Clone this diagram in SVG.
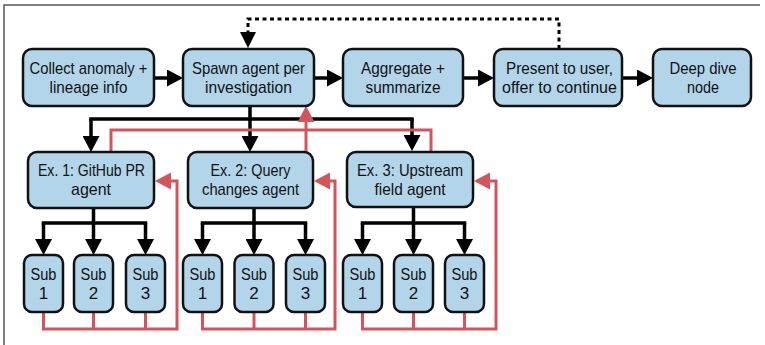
<svg xmlns="http://www.w3.org/2000/svg" width="765" height="345" viewBox="0 0 765 345">
  <style>
    .box { fill: #b3d5ea; stroke: #111; stroke-width: 2.5; }
    .lbl { font-family: "Liberation Sans", Arial, sans-serif; font-size: 17px; fill: #111; text-anchor: middle; }
    .blk { fill: none; stroke: #000; stroke-width: 3.5; }
    .red { fill: none; stroke: #d3545b; stroke-width: 3; }
    .dot { fill: none; stroke: #000; stroke-width: 3; stroke-dasharray: 4 3.5; }
  </style>
  <defs>
    <marker id="ahBlack" markerUnits="userSpaceOnUse" markerWidth="16" markerHeight="17" refX="4" refY="8.5" orient="auto">
      <path d="M0,0 L16,8.5 L0,17 Z" fill="#000"/>
    </marker>
    <marker id="ahRed" markerUnits="userSpaceOnUse" markerWidth="16" markerHeight="17" refX="4" refY="8.5" orient="auto">
      <path d="M0,0 L16,8.5 L0,17 Z" fill="#d3545b"/>
    </marker>
  </defs>

  <!-- frame -->
  <path d="M4,345 V5 H760" fill="none" stroke="#555" stroke-width="1.5"/>

  <!-- connectors -->
  <g id="connectors">
    <!-- main flow -->
    <path class="blk" d="M154,78 H171" marker-end="url(#ahBlack)"/>
    <path class="blk" d="M314,78 H331" marker-end="url(#ahBlack)"/>
    <path class="blk" d="M463,78 H482" marker-end="url(#ahBlack)"/>
    <path class="blk" d="M622,78 H641" marker-end="url(#ahBlack)"/>
    <!-- continue loop -->
    <path class="dot" d="M559,49 V19 H248 V36"/>
    <path d="M240,32 L256,32 L248,48 Z" fill="#000"/>
    <!-- spawn fan-out -->
    <path class="blk" d="M250,106 V119 M89.25,119 H413.75"/>
    <path class="blk" d="M91,119 V140" marker-end="url(#ahBlack)"/>
    <path class="blk" d="M250,119 V140" marker-end="url(#ahBlack)"/>
    <path class="blk" d="M412,119 V139" marker-end="url(#ahBlack)"/>
    <!-- agent fan-out to subagents -->
    <path class="blk" d="M93.5,208 V223 M41.75,223 H147.25"/>
    <path class="blk" d="M43.5,223 V243" marker-end="url(#ahBlack)"/>
    <path class="blk" d="M93.5,223 V243" marker-end="url(#ahBlack)"/>
    <path class="blk" d="M145.5,223 V243" marker-end="url(#ahBlack)"/>
    <path class="blk" d="M254,208 V223 M200.75,223 H307.25"/>
    <path class="blk" d="M202.5,223 V243" marker-end="url(#ahBlack)"/>
    <path class="blk" d="M254,223 V243" marker-end="url(#ahBlack)"/>
    <path class="blk" d="M305.5,223 V243" marker-end="url(#ahBlack)"/>
    <path class="blk" d="M413.5,208 V223 M360.75,223 H466.25"/>
    <path class="blk" d="M362.5,223 V243" marker-end="url(#ahBlack)"/>
    <path class="blk" d="M413.5,223 V243" marker-end="url(#ahBlack)"/>
    <path class="blk" d="M464.5,223 V243" marker-end="url(#ahBlack)"/>
    <!-- results back to agents -->
    <path class="red" d="M43.5,312 V329 H177 V181 H167" marker-end="url(#ahRed)"/>
    <path class="red" d="M93.5,312 V329 M145.5,312 V329"/>
    <path class="red" d="M202.5,312 V329 H335 V181 H326" marker-end="url(#ahRed)"/>
    <path class="red" d="M254,312 V329 M305.5,312 V329"/>
    <path class="red" d="M362.5,312 V329 H496 V181 H486" marker-end="url(#ahRed)"/>
    <path class="red" d="M413.5,312 V329 M464.5,312 V329"/>
    <!-- results back to spawner -->
    <path class="red" d="M111,152 V130 H431 V152"/>
    <path class="red" d="M306,152 V118" marker-end="url(#ahRed)"/>
  </g>

  <!-- top row -->
  <g id="collect">
    <rect class="box" x="23" y="49" width="131" height="57" rx="9"/>
    <text class="lbl" x="88.5" y="74" textLength="118" lengthAdjust="spacingAndGlyphs">Collect anomaly +</text>
    <text class="lbl" x="88.5" y="93" textLength="78" lengthAdjust="spacingAndGlyphs">lineage info</text>
  </g>
  <g id="spawn">
    <rect class="box" x="183" y="49" width="131" height="57" rx="9"/>
    <text class="lbl" x="248.5" y="74" textLength="113" lengthAdjust="spacingAndGlyphs">Spawn agent per</text>
    <text class="lbl" x="248.5" y="93" textLength="87" lengthAdjust="spacingAndGlyphs">investigation</text>
  </g>
  <g id="aggregate">
    <rect class="box" x="343" y="49" width="120" height="57" rx="9"/>
    <text class="lbl" x="403" y="74" textLength="84" lengthAdjust="spacingAndGlyphs">Aggregate +</text>
    <text class="lbl" x="403" y="93" textLength="75" lengthAdjust="spacingAndGlyphs">summarize</text>
  </g>
  <g id="present">
    <rect class="box" x="494" y="49" width="128" height="57" rx="9"/>
    <text class="lbl" x="559.5" y="74" textLength="107" lengthAdjust="spacingAndGlyphs">Present to user,</text>
    <text class="lbl" x="559.5" y="93" textLength="115" lengthAdjust="spacingAndGlyphs">offer to continue</text>
  </g>
  <g id="deepdive">
    <rect class="box" x="653" y="49" width="98" height="57" rx="9"/>
    <text class="lbl" x="703" y="74" textLength="67" lengthAdjust="spacingAndGlyphs">Deep dive</text>
    <text class="lbl" x="703" y="93" textLength="32" lengthAdjust="spacingAndGlyphs">node</text>
  </g>

  <!-- agents -->
  <g id="ex1">
    <rect class="box" x="28" y="152" width="126" height="56" rx="9"/>
    <text class="lbl" x="91.5" y="175.5" textLength="107" lengthAdjust="spacingAndGlyphs">Ex. 1: GitHub PR</text>
    <text class="lbl" x="91" y="194.5" textLength="40" lengthAdjust="spacingAndGlyphs">agent</text>
  </g>
  <g id="ex2">
    <rect class="box" x="188" y="152" width="125" height="56" rx="9"/>
    <text class="lbl" x="250.5" y="175.5" textLength="80" lengthAdjust="spacingAndGlyphs">Ex. 2: Query</text>
    <text class="lbl" x="250.5" y="194.5" textLength="97" lengthAdjust="spacingAndGlyphs">changes agent</text>
  </g>
  <g id="ex3">
    <rect class="box" x="347" y="152" width="126" height="55" rx="9"/>
    <text class="lbl" x="410" y="175.5" textLength="106" lengthAdjust="spacingAndGlyphs">Ex. 3: Upstream</text>
    <text class="lbl" x="410" y="194.5" textLength="71" lengthAdjust="spacingAndGlyphs">field agent</text>
  </g>

  <!-- subagents -->
  <g id="ex1-sub1"><rect class="box" x="24" y="255" width="39" height="57" rx="8"/><text class="lbl" x="43.5" y="279.5" textLength="26" lengthAdjust="spacingAndGlyphs">Sub</text><text class="lbl" x="43.5" y="298.5">1</text></g>
  <g id="ex1-sub2"><rect class="box" x="74" y="255" width="39" height="57" rx="8"/><text class="lbl" x="93.5" y="279.5" textLength="26" lengthAdjust="spacingAndGlyphs">Sub</text><text class="lbl" x="93.5" y="298.5">2</text></g>
  <g id="ex1-sub3"><rect class="box" x="126" y="255" width="39" height="57" rx="8"/><text class="lbl" x="145.5" y="279.5" textLength="26" lengthAdjust="spacingAndGlyphs">Sub</text><text class="lbl" x="145.5" y="298.5">3</text></g>
  <g id="ex2-sub1"><rect class="box" x="183" y="255" width="39" height="57" rx="8"/><text class="lbl" x="202.5" y="279.5" textLength="26" lengthAdjust="spacingAndGlyphs">Sub</text><text class="lbl" x="202.5" y="298.5">1</text></g>
  <g id="ex2-sub2"><rect class="box" x="234.5" y="255" width="39" height="57" rx="8"/><text class="lbl" x="254" y="279.5" textLength="26" lengthAdjust="spacingAndGlyphs">Sub</text><text class="lbl" x="254" y="298.5">2</text></g>
  <g id="ex2-sub3"><rect class="box" x="286" y="255" width="39" height="57" rx="8"/><text class="lbl" x="305.5" y="279.5" textLength="26" lengthAdjust="spacingAndGlyphs">Sub</text><text class="lbl" x="305.5" y="298.5">3</text></g>
  <g id="ex3-sub1"><rect class="box" x="343" y="255" width="39" height="57" rx="8"/><text class="lbl" x="362.5" y="279.5" textLength="26" lengthAdjust="spacingAndGlyphs">Sub</text><text class="lbl" x="362.5" y="298.5">1</text></g>
  <g id="ex3-sub2"><rect class="box" x="394" y="255" width="39" height="57" rx="8"/><text class="lbl" x="413.5" y="279.5" textLength="26" lengthAdjust="spacingAndGlyphs">Sub</text><text class="lbl" x="413.5" y="298.5">2</text></g>
  <g id="ex3-sub3"><rect class="box" x="445" y="255" width="39" height="57" rx="8"/><text class="lbl" x="464.5" y="279.5" textLength="26" lengthAdjust="spacingAndGlyphs">Sub</text><text class="lbl" x="464.5" y="298.5">3</text></g>
</svg>
